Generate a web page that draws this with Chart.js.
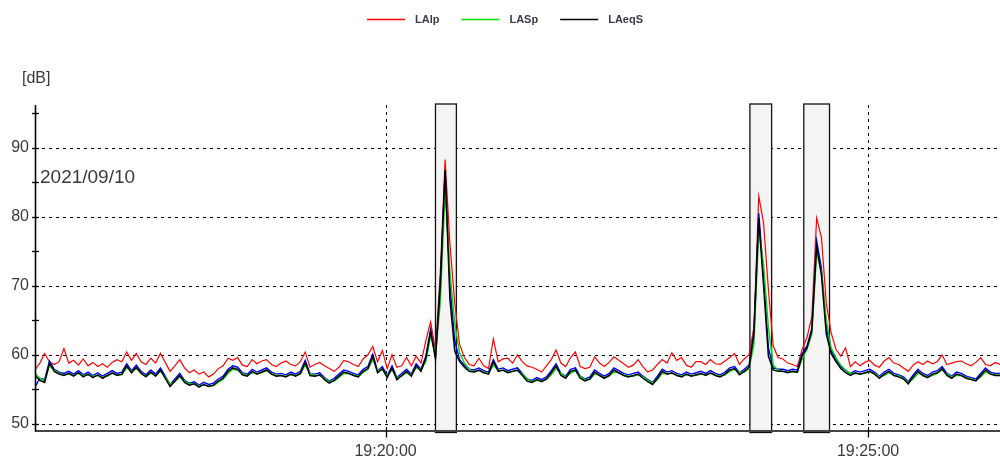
<!DOCTYPE html>
<html><head><meta charset="utf-8">
<script src="https://cdn.jsdelivr.net/npm/chart.js@4.4.1/dist/chart.umd.min.js"></script>
<style>html,body{margin:0;padding:0;background:#fff;}#wrap{width:1000px;height:465px;position:relative;}</style>
</head><body><div id="wrap"><canvas id="c" width="1000" height="465"></canvas></div>
<script>
// ---- data ----
const startTime = 69382;   // 19:16:22 in seconds of day
const stepSec = 3;
const xMin = 69382, xMax = 69982;
const yMin = 49.03, yMax = 96.2;
const xTickValues = [69600, 69900];
const xTickLabels = ['19:20:00', '19:25:00'];
const yMajorTicks = [50, 60, 70, 80, 90];
const yMinorTicks = [55, 65, 75, 85, 95];
const bandStart = [69631, 69826.5, 69860];
const bandEnd = [69644, 69840, 69876];
const seriesNames = ['LAlp', 'LASp', 'LAeqS'];
const dateLabel = '2021/09/10';
const dateLabelValue = 85.6;
const unitLabel = '[dB]';

const LAlp = [
57.8,58.8,60.2,59.0,58.6,59.0,60.9,58.8,59.2,58.5,
59.4,58.4,58.9,58.3,58.7,58.2,58.9,59.3,59.0,60.4,
59.2,60.2,59.0,58.6,59.5,58.8,60.2,58.9,57.6,58.4,
59.3,58.1,57.4,57.8,57.2,57.5,56.8,57.2,58.0,58.4,
59.5,59.2,59.6,58.5,58.3,59.3,58.7,59.1,59.3,58.6,
58.3,58.8,59.1,58.6,58.4,59.0,60.4,58.2,58.6,58.9,
58.4,58.0,57.6,58.2,59.2,59.0,58.6,58.3,59.4,60.0,
61.2,59.0,60.6,58.0,60.0,58.2,58.4,59.6,58.4,59.8,
58.8,62.0,64.8,60.6,72.0,88.3,76.0,67.5,61.5,59.6,
58.6,58.4,59.5,58.4,58.0,62.3,59.0,59.4,59.5,58.8,
60.0,59.0,58.4,58.2,57.9,57.5,58.4,59.3,60.7,58.8,
58.3,59.6,60.4,58.3,58.0,58.2,59.7,58.8,58.3,58.9,
59.7,59.2,58.7,58.2,58.5,59.3,58.3,57.5,57.8,58.6,
59.3,58.8,60.3,59.2,59.6,58.5,58.2,59.0,59.0,58.6,
59.3,58.7,58.6,59.1,59.6,60.2,58.6,59.4,60.0,64.0,
83.0,79.1,69.5,61.3,59.6,59.4,58.8,58.6,58.3,60.8,
62.5,65.5,79.8,77.0,67.5,63.2,60.8,59.8,61.0,58.3,
59.0,58.4,58.9,59.2,58.5,58.2,59.1,59.6,58.8,58.6,
58.1,57.6,58.5,59.0,58.6,59.1,58.7,59.0,60.0,58.6,
58.8,59.0,59.1,58.7,58.4,58.9,59.6,58.6,58.4,58.9,
58.6];

const LASp = [
57.3,56.6,56.2,58.4,57.8,57.3,57.1,57.2,57.0,57.3,
57.0,57.1,56.9,57.0,56.8,56.9,57.3,57.1,57.1,58.1,
57.6,58.0,57.4,56.9,57.3,57.0,57.6,56.8,55.7,56.1,
56.8,56.2,55.8,55.8,55.5,55.6,55.5,55.5,56.0,56.5,
57.3,57.9,57.8,57.3,57.0,57.4,57.3,57.4,57.7,57.3,
57.0,57.0,56.9,57.1,57.0,57.2,58.5,57.3,57.0,57.0,
56.6,56.1,56.2,56.7,57.3,57.3,57.1,56.9,57.4,57.9,
59.3,57.8,57.8,57.0,57.8,56.7,56.9,57.4,57.1,58.1,
57.8,59.0,62.8,60.0,67.5,83.9,72.0,64.5,60.3,58.8,
57.9,57.5,57.7,57.5,57.3,58.5,57.8,57.7,57.5,57.6,
57.7,57.2,56.5,56.1,56.3,56.2,56.4,57.1,58.0,57.3,
56.8,57.3,57.7,56.9,56.4,56.4,57.2,57.1,56.7,56.9,
57.5,57.4,57.1,56.9,56.9,57.1,56.8,56.3,55.9,56.4,
57.3,57.3,57.3,57.1,56.9,57.1,57.0,57.0,57.2,57.1,
57.3,57.1,56.9,57.1,57.6,57.9,57.4,57.5,58.0,61.5,
78.1,73.0,64.0,58.5,57.8,57.6,57.5,57.5,57.5,59.4,
60.8,63.0,74.8,72.0,65.0,61.0,59.6,58.5,57.8,57.3,
57.3,57.2,57.3,57.5,57.3,56.8,57.0,57.4,57.1,56.9,
56.6,56.0,56.5,57.3,57.1,56.8,57.0,57.3,57.8,57.2,
56.8,57.0,57.0,56.7,56.5,56.3,56.8,57.5,57.3,57.1,
57.0];

const LAeqS = [
57.0,56.3,56.0,58.8,57.6,57.2,57.0,57.3,56.9,57.4,
56.8,57.2,56.7,57.1,56.6,57.0,57.4,57.0,57.2,58.4,
57.4,58.2,57.3,56.8,57.5,56.9,57.8,56.6,55.4,56.2,
57.0,56.0,55.6,55.8,55.3,55.7,55.4,55.6,56.2,56.6,
57.6,58.1,57.9,57.1,56.9,57.6,57.2,57.5,57.8,57.2,
56.9,57.0,56.8,57.2,56.9,57.3,58.9,57.0,56.9,57.1,
56.4,55.9,56.3,56.9,57.5,57.3,57.0,56.8,57.6,58.0,
59.8,57.4,58.0,56.7,58.1,56.4,57.0,57.6,56.9,58.4,
57.6,59.5,63.4,59.4,70.0,86.8,68.0,60.5,59.0,58.2,
57.6,57.5,57.8,57.4,57.2,59.0,57.6,57.8,57.4,57.6,
57.8,57.0,56.2,56.0,56.4,56.1,56.5,57.4,58.4,57.0,
56.6,57.6,57.8,56.6,56.2,56.5,57.5,57.0,56.6,57.0,
57.8,57.4,57.0,56.8,57.0,57.2,56.6,56.1,55.7,56.6,
57.6,57.2,57.4,57.0,56.8,57.2,56.9,57.1,57.3,57.0,
57.4,57.0,56.8,57.2,57.8,58.0,57.1,57.6,58.2,63.0,
79.8,70.0,59.8,57.8,57.6,57.6,57.4,57.6,57.5,59.9,
61.0,63.5,75.8,71.5,63.0,60.2,59.0,58.0,57.4,57.0,
57.4,57.2,57.4,57.6,57.2,56.6,57.2,57.6,57.0,56.8,
56.5,55.8,56.8,57.6,57.0,56.7,57.2,57.4,58.0,57.0,
56.6,57.2,57.0,56.6,56.4,56.2,57.0,57.8,57.2,57.0,
57.0];

const LAblue = [
55.3,56.6,56.4,59.1,57.9,57.5,57.3,57.6,57.2,57.7,
57.1,57.5,57.0,57.4,56.9,57.3,57.7,57.3,57.5,58.7,
57.7,58.5,57.6,57.1,57.8,57.2,58.1,56.9,55.7,56.5,
57.3,56.3,55.9,56.1,55.6,56.0,55.7,55.9,56.5,56.9,
57.9,58.4,58.2,57.4,57.2,57.9,57.5,57.8,58.1,57.5,
57.2,57.3,57.1,57.5,57.2,57.6,59.2,57.3,57.2,57.4,
56.7,56.2,56.6,57.2,57.8,57.6,57.3,57.1,57.9,58.3,
60.1,57.7,58.3,57.0,58.4,56.7,57.3,57.9,57.2,58.7,
57.9,59.8,63.7,59.7,70.5,86.5,70.0,62.0,59.3,58.5,
57.9,57.8,58.1,57.7,57.5,59.3,57.9,58.1,57.7,57.9,
58.1,57.3,56.5,56.3,56.7,56.4,56.8,57.7,58.7,57.3,
56.9,57.9,58.1,56.9,56.5,56.8,57.8,57.3,56.9,57.3,
58.1,57.7,57.3,57.1,57.3,57.5,56.9,56.4,56.0,56.9,
57.9,57.5,57.7,57.3,57.1,57.5,57.2,57.4,57.6,57.3,
57.7,57.3,57.1,57.5,58.1,58.3,57.4,57.9,58.5,63.3,
80.5,71.5,61.0,58.1,57.9,57.9,57.7,57.9,57.8,60.2,
61.3,63.8,76.5,72.5,64.0,60.6,59.3,58.3,57.7,57.3,
57.7,57.5,57.7,57.9,57.5,56.9,57.5,57.9,57.3,57.1,
56.8,56.1,57.1,57.9,57.3,57.0,57.5,57.7,58.3,57.3,
56.9,57.5,57.3,56.9,56.7,56.5,57.3,58.1,57.5,57.3,
57.3];

// ---- build ----
function toPoints(arr) { return arr.map((v, i) => ({ x: startTime + i * stepSec, y: v })); }
const FONT = "'Liberation Sans', Arial, sans-serif";
const TXT = '#3a3a3a';

const decorPlugin = {
  id: 'decor',
  beforeDatasetsDraw(chart) {
    const { ctx, chartArea: a, scales: { x, y } } = chart;
    ctx.save();
    // dotted grid
    ctx.strokeStyle = '#000'; ctx.lineWidth = 1; ctx.setLineDash([3, 4]);
    yMajorTicks.forEach(v => {
      const py = Math.round(y.getPixelForValue(v)) + 0.5;
      ctx.beginPath(); ctx.moveTo(a.left, py); ctx.lineTo(a.right, py); ctx.stroke();
    });
    xTickValues.forEach(v => {
      const px = Math.round(x.getPixelForValue(v)) + 0.5;
      ctx.beginPath(); ctx.moveTo(px, a.top); ctx.lineTo(px, a.bottom); ctx.stroke();
    });
    ctx.setLineDash([]);
    // bands
    bandStart.forEach((s, i) => {
      const x1 = x.getPixelForValue(s), x2 = x.getPixelForValue(bandEnd[i]);
      ctx.fillStyle = '#f4f4f4';
      ctx.fillRect(x1, a.top - 1, x2 - x1, a.bottom - a.top + 3);
      ctx.strokeStyle = '#111'; ctx.lineWidth = 1.3;
      ctx.strokeRect(x1, a.top - 1, x2 - x1, a.bottom - a.top + 3);
    });
    ctx.restore();
  },
  afterDraw(chart) {
    const { ctx, chartArea: a, scales: { x, y } } = chart;
    ctx.save();
    // axes
    ctx.strokeStyle = '#444'; ctx.lineWidth = 2;
    ctx.beginPath(); ctx.moveTo(a.left, a.bottom + 0.5); ctx.lineTo(a.right, a.bottom + 0.5); ctx.stroke();
    ctx.strokeStyle = '#000'; ctx.lineWidth = 1.6;
    ctx.beginPath(); ctx.moveTo(a.left + 0.5, a.top); ctx.lineTo(a.left + 0.5, a.bottom + 1); ctx.stroke();
    // y ticks crossing axis
    ctx.lineWidth = 1.3;
    yMajorTicks.concat(yMinorTicks).forEach(v => {
      const py = Math.round(y.getPixelForValue(v)) + 0.5;
      ctx.beginPath(); ctx.moveTo(a.left - 3, py); ctx.lineTo(a.left + 4, py); ctx.stroke();
    });
    // x ticks
    xTickValues.forEach(v => {
      const px = Math.round(x.getPixelForValue(v)) + 0.5;
      ctx.beginPath(); ctx.moveTo(px, a.bottom - 2); ctx.lineTo(px, a.bottom + 7); ctx.stroke();
    });
    // unit label
    ctx.fillStyle = TXT; ctx.font = '16px ' + FONT; ctx.textBaseline = 'middle'; ctx.textAlign = 'left';
    ctx.fillText(unitLabel, 22, 79);
    // date label
    ctx.font = '19px ' + FONT;
    ctx.fillText(dateLabel, a.left + 5, y.getPixelForValue(dateLabelValue));
    // legend
    const colors = chart.data.datasets.slice(0, 3).map(d => d.borderColor);
    ctx.font = 'bold 11px ' + FONT;
    const lineW = 38, gapT = 10, gapI = 22;
    const widths = seriesNames.map(n => lineW + gapT + ctx.measureText(n).width);
    const total = widths.reduce((s, w) => s + w, 0) + gapI * (seriesNames.length - 1);
    let cx = 505 - total / 2;
    const ly = 19;
    seriesNames.forEach((n, i) => {
      ctx.strokeStyle = colors[i]; ctx.lineWidth = 1.5;
      ctx.beginPath(); ctx.moveTo(cx, ly + 0.5); ctx.lineTo(cx + lineW, ly + 0.5); ctx.stroke();
      ctx.fillStyle = '#3a3a4a'; ctx.textBaseline = 'middle';
      ctx.fillText(n, cx + lineW + gapT, ly + 1);
      cx += widths[i] + gapI;
    });
    ctx.restore();
  }
};

new Chart(document.getElementById('c'), {
  type: 'line',
  data: {
    datasets: [
      { label: seriesNames[0], data: toPoints(LAlp), borderColor: '#ff0000', borderWidth: 1.2, order: 3 },
      { label: seriesNames[1], data: toPoints(LASp), borderColor: '#00dd00', borderWidth: 1.4, order: 1 },
      { label: seriesNames[2], data: toPoints(LAeqS), borderColor: '#000000', borderWidth: 1.5, order: 0 },
      { label: '', data: toPoints(LAblue), borderColor: '#0000ff', borderWidth: 1.4, order: 2 }
    ]
  },
  options: {
    responsive: false, devicePixelRatio: 1, animation: false,
    layout: { padding: { top: 105, left: 0, right: 0, bottom: 0 } },
    elements: { line: { borderWidth: 1.2, tension: 0 }, point: { radius: 0 } },
    plugins: { legend: { display: false }, tooltip: { enabled: false } },
    scales: {
      x: {
        type: 'linear', min: xMin, max: xMax,
        afterBuildTicks: s => { s.ticks = xTickValues.map(v => ({ value: v })); },
        afterFit: s => { s.height = 34.5; },
        grid: { display: false, drawTicks: false }, border: { display: false },
        ticks: { padding: 11, color: TXT, font: { family: FONT, size: 16 },
          maxRotation: 0, autoSkip: false,
          callback: (v) => xTickLabels[xTickValues.indexOf(v)] }
      },
      y: {
        type: 'linear', min: yMin, max: yMax,
        afterBuildTicks: s => { s.ticks = yMajorTicks.map(v => ({ value: v })); },
        afterFit: s => { s.width = 35; },
        grid: { display: false, drawTicks: false }, border: { display: false },
        ticks: { padding: 6, color: TXT, font: { family: FONT, size: 16 }, callback: v => String(v) }
      }
    }
  },
  plugins: [decorPlugin]
});
</script></body></html>
